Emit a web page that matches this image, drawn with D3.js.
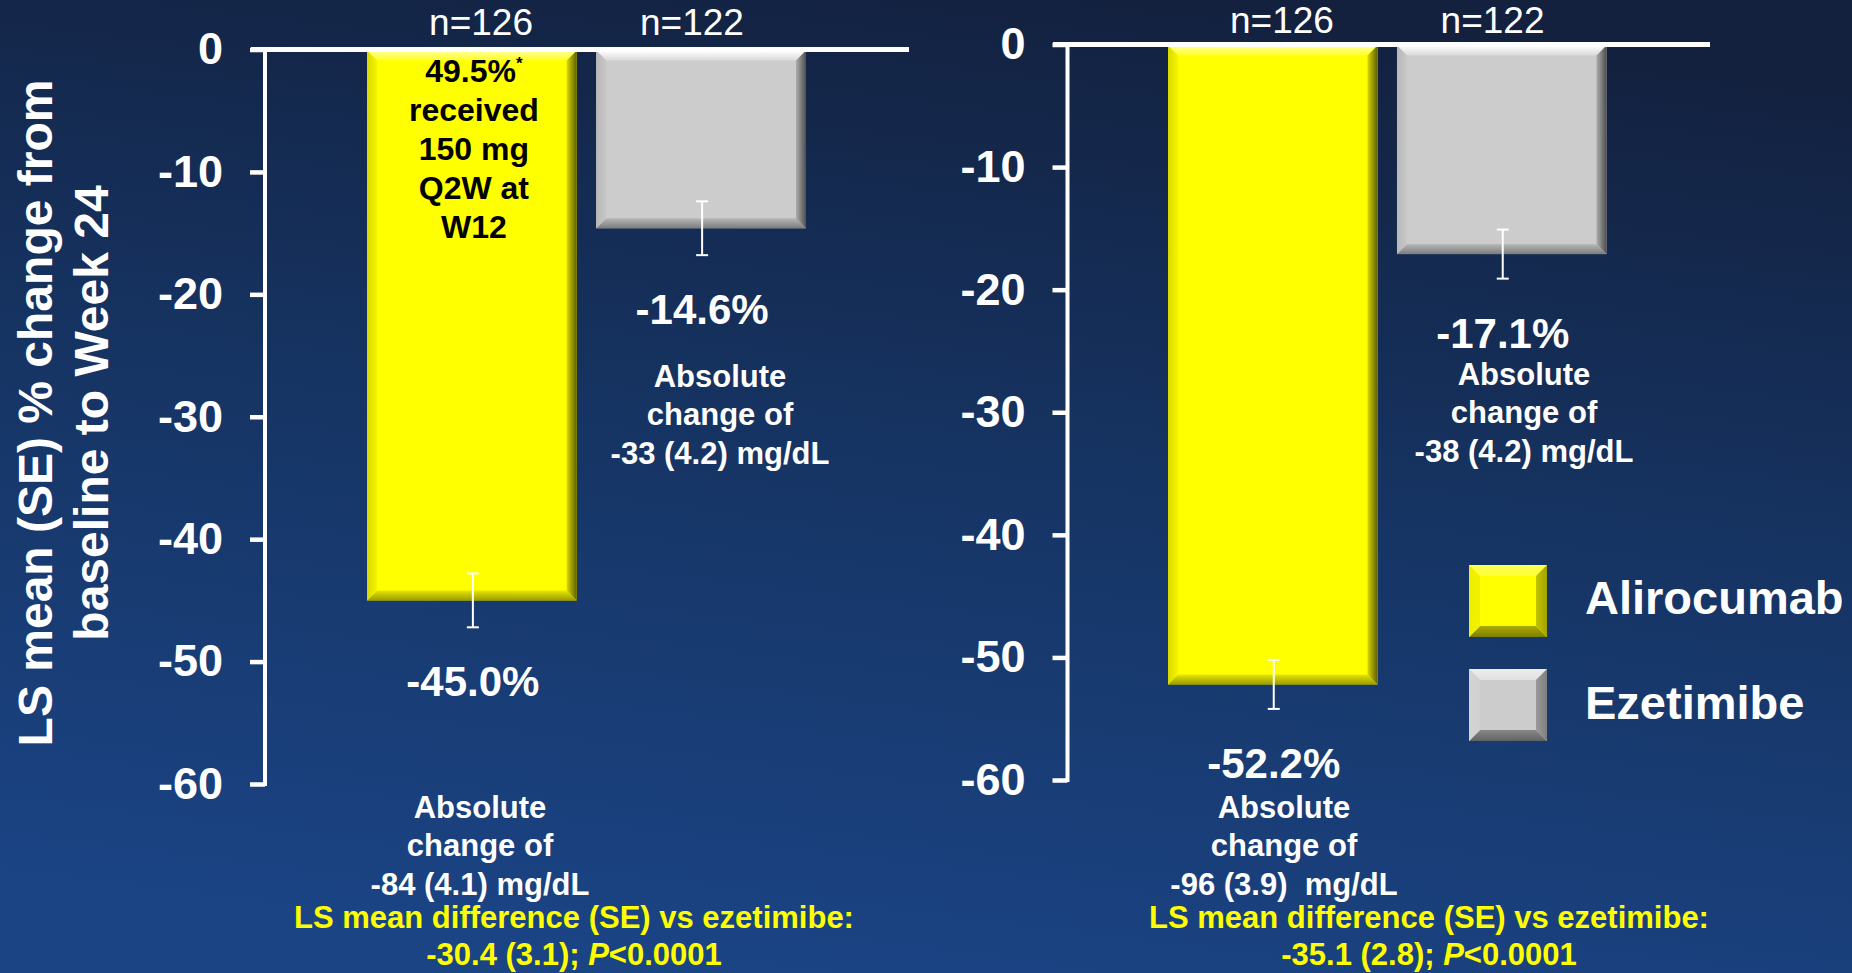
<!DOCTYPE html>
<html>
<head>
<meta charset="utf-8">
<script src="https://cdn.jsdelivr.net/npm/d3@7"></script>
<style>
  html, body { margin: 0; padding: 0; background: #152c58; }
  svg { display: block; }
  text { font-family: "Liberation Sans", Arial, Helvetica, sans-serif; }
</style>
</head>
<body>
<svg id="chart" width="1852" height="973"></svg>
<script>
// ---- data ----
const treatments = ["Alirocumab", "Ezetimibe"];
const nPerArm = [126, 122];
const yTickValues = [0, -10, -20, -30, -40, -50, -60];

// panel 1: % change from baseline to week 24
const leftPct = [-45.0, -14.6];
const leftSE = [2.2, 2.2];
const leftAbsolute = ["-84 (4.1) mg/dL", "-33 (4.2) mg/dL"];
const leftDiff = ["-30.4 (3.1)"];

// panel 2
const rightPct = [-52.2, -17.1];
const rightSE = [2.0, 2.0];
const rightAbsolute = ["-96 (3.9)  mg/dL", "-38 (4.2) mg/dL"];
const rightDiff = ["-35.1 (2.8)"];

const titrationNote = ["49.5%", "received", "150 mg", "Q2W at", "W12"];

// ---- layout ----
const W = 1852, H = 973;
const FONT = '"Liberation Sans", Arial, Helvetica, sans-serif';
const svg = d3.select("#chart");
const defs = svg.append("defs");

// background
const bg = defs.append("linearGradient").attr("id", "bg")
  .attr("x1", 0.62).attr("y1", 0).attr("x2", 0.38).attr("y2", 1);
bg.append("stop").attr("offset", 0).attr("stop-color", "#13213f");
bg.append("stop").attr("offset", 0.5).attr("stop-color", "#163565");
bg.append("stop").attr("offset", 1).attr("stop-color", "#1b4485");
svg.append("rect").attr("width", W).attr("height", H).attr("fill", "url(#bg)");

// bevel palettes per series
const palettes = {
  Alirocumab: { face: "#ffff00", top: "#ffff9a", left: "#d8d800", right: "#5e5e00", bottom: "#9c9c00" },
  Ezetimibe:  { face: "#cccccc", top: "#ffffff", left: "#b8b8b8", right: "#4e4e4e", bottom: "#7c7c7c" }
};
const legendPalettes = {
  Alirocumab: { face: "#ffff00", top: "#ffff55", left: "#eded00", right: "#a2a200", bottom: "#7e7e00" },
  Ezetimibe:  { face: "#cccccc", top: "#ededed", left: "#d4d4d4", right: "#7f7f7f", bottom: "#636363" }
};

// side gradients: outer edge colour -> towards face colour
const sideVec = {
  top:    [0, 0, 0, 1],
  bottom: [0, 1, 0, 0],
  left:   [0, 0, 1, 0],
  right:  [1, 0, 0, 0]
};
function makeGradients(prefix, pal, blend) {
  Object.keys(sideVec).forEach(side => {
    const v = sideVec[side];
    const g = defs.append("linearGradient").attr("id", `${prefix}-${side}`)
      .attr("x1", v[0]).attr("y1", v[1]).attr("x2", v[2]).attr("y2", v[3]);
    g.append("stop").attr("offset", 0).attr("stop-color", pal[side]);
    g.append("stop").attr("offset", 1).attr("stop-color", d3.interpolateRgb(pal[side], pal.face)(blend));
  });
}
treatments.forEach(t => {
  makeGradients(`bar-${t}`, palettes[t], 0.75);
  makeGradients(`leg-${t}`, legendPalettes[t], 0.35);
});

function bevelRect(g, x, y, w, h, b, prefix, face) {
  g.append("rect").attr("x", x).attr("y", y).attr("width", w).attr("height", h).attr("fill", face);
  const sides = {
    top:    [[x, y], [x + w, y], [x + w - b, y + b], [x + b, y + b]],
    bottom: [[x, y + h], [x + w, y + h], [x + w - b, y + h - b], [x + b, y + h - b]],
    left:   [[x, y], [x + b, y + b], [x + b, y + h - b], [x, y + h]],
    right:  [[x + w, y], [x + w - b, y + b], [x + w - b, y + h - b], [x + w, y + h]]
  };
  Object.keys(sides).forEach(s => {
    g.append("polygon").attr("points", sides[s].map(p => p.join(",")).join(" "))
      .attr("fill", `url(#${prefix}-${s})`);
  });
}

const panels = [
  {
    values: leftPct, se: leftSE, absolute: leftAbsolute, diff: leftDiff,
    y: d3.scaleLinear().domain([0, -60]).range([49.5, 784]),
    axisX: 265, xRange: [367, 806], zeroLine: [251, 909],
    nBaseline: 35,
    absPos: [{ x: 480, y: 818 }, { x: 720, y: 386.7 }],
    diffPos: { x: 574, y: 928 }
  },
  {
    values: rightPct, se: rightSE, absolute: rightAbsolute, diff: rightDiff,
    y: d3.scaleLinear().domain([0, -60]).range([44.5, 780]),
    axisX: 1067.5, xRange: [1168, 1606.5], zeroLine: [1053, 1710],
    nBaseline: 33,
    absPos: [{ x: 1284, y: 818 }, { x: 1524, y: 385 }],
    diffPos: { x: 1429, y: 928 }
  }
];

const lineH = 38.4;

panels.forEach((p, pi) => {
  const g = svg.append("g");
  const x = d3.scaleBand().domain(treatments).range(p.xRange).paddingInner(0.085).paddingOuter(0);
  const bw = x.bandwidth();
  const y = p.y;

  // bars
  treatments.forEach((t, i) => {
    const v = p.values[i];
    const top = y(0) + 1;
    bevelRect(g, x(t), top, bw, y(v) - top, 10, `bar-${t}`, palettes[t].face);
  });

  // error bars
  treatments.forEach((t, i) => {
    const cx = x(t) + bw / 2 + 1;
    const v = p.values[i], e = p.se[i];
    const eg = g.append("g").attr("stroke", "#ffffff").attr("stroke-width", 2);
    eg.append("line").attr("x1", cx).attr("x2", cx).attr("y1", y(v + e)).attr("y2", y(v - e));
    [v + e, v - e].forEach(val => {
      eg.append("line").attr("x1", cx - 6).attr("x2", cx + 6).attr("y1", y(val)).attr("y2", y(val));
    });
  });

  // y axis
  const axis = d3.axisLeft(y).tickValues(yTickValues).tickSize(15).tickSizeOuter(0)
    .tickPadding(27).tickFormat(d => String(d));
  const ag = g.append("g").attr("transform", `translate(${p.axisX},0)`).call(axis);
  ag.select(".domain").remove();
  ag.selectAll(".tick line").attr("stroke", "#ffffff").attr("stroke-width", 4.5);
  ag.selectAll(".tick text").attr("fill", "#ffffff")
    .style("font-family", FONT).style("font-size", "45px").style("font-weight", "bold");
  g.append("line").attr("x1", p.axisX).attr("x2", p.axisX)
    .attr("y1", y(0)).attr("y2", y(-60) + 2)
    .attr("stroke", "#ffffff").attr("stroke-width", 4);
  // zero baseline
  g.append("line").attr("x1", p.zeroLine[0]).attr("x2", p.zeroLine[1])
    .attr("y1", y(0)).attr("y2", y(0))
    .attr("stroke", "#ffffff").attr("stroke-width", 5);

  // n labels
  const mid = (p.xRange[0] + p.xRange[1]) / 2;
  treatments.forEach((t, i) => {
    const cx = x(t) + bw / 2;
    g.append("text").attr("x", mid + (cx - mid) * 0.92).attr("y", p.nBaseline)
      .attr("text-anchor", "middle").attr("fill", "#ffffff")
      .style("font-size", "37px").text(`n=${nPerArm[i]}`);
  });

  // value labels
  treatments.forEach((t, i) => {
    const cx = x(t) + bw / 2 + 1;
    const v = p.values[i], e = p.se[i];
    g.append("text").attr("x", cx).attr("y", y(v - e) + 69)
      .attr("text-anchor", "middle").attr("fill", "#ffffff")
      .style("font-size", "42px").style("font-weight", "bold")
      .text(`${v.toFixed(1)}%`);
  });

  // absolute change labels
  treatments.forEach((t, i) => {
    const pos = p.absPos[i];
    const lines = ["Absolute", "change of", p.absolute[i]];
    const tx = g.append("text").attr("text-anchor", "middle").attr("fill", "#ffffff")
      .style("font-size", "31px").style("font-weight", "bold");
    lines.forEach((l, k) => {
      tx.append("tspan").attr("x", pos.x).attr("y", pos.y + k * lineH)
        .style("white-space", "pre").text(l);
    });
  });

  // difference vs ezetimibe
  const dt = g.append("text").attr("text-anchor", "middle").attr("fill", "#ffff00")
    .style("font-size", "31px").style("font-weight", "bold");
  dt.append("tspan").attr("x", p.diffPos.x).attr("y", p.diffPos.y)
    .text("LS mean difference (SE) vs ezetimibe:");
  const l2 = dt.append("tspan").attr("x", p.diffPos.x).attr("y", p.diffPos.y + 36.5);
  l2.append("tspan").text(`${p.diff[0]}; `);
  l2.append("tspan").style("font-style", "italic").text("P");
  l2.append("tspan").text("<0.0001");

  // titration note inside the alirocumab bar (panel 1)
  if (pi === 0) {
    const cx = x(treatments[0]) + bw / 2 + 2;
    const nt = g.append("text").attr("text-anchor", "middle").attr("fill", "#000000")
      .style("font-size", "32px").style("font-weight", "bold");
    titrationNote.forEach((l, k) => {
      nt.append("tspan").attr("x", cx).attr("y", 82 + k * 38.9).text(l);
      if (k === 0) {
        nt.append("tspan").attr("dy", -13).style("font-size", "17px").text("*");
      }
    });
  }
});

// y axis title
const title = svg.append("g").attr("fill", "#ffffff")
  .style("font-size", "48px").style("font-weight", "bold");
["LS mean (SE) % change from", "baseline to Week 24"].forEach((l, k) => {
  title.append("text").attr("text-anchor", "middle")
    .attr("transform", `translate(${52 + k * 56},413) rotate(-90)`).text(l);
});

// legend
const legend = svg.append("g");
treatments.forEach((t, i) => {
  const ly = 565 + i * 104;
  bevelRect(legend, 1469, ly, 78, 72, 11, `leg-${t}`, legendPalettes[t].face);
  legend.append("text").attr("x", 1585).attr("y", ly + 49 + i * 0.7)
    .attr("fill", "#ffffff").style("font-size", "47px").style("font-weight", "bold").text(t);
});
</script>
</body>
</html>
